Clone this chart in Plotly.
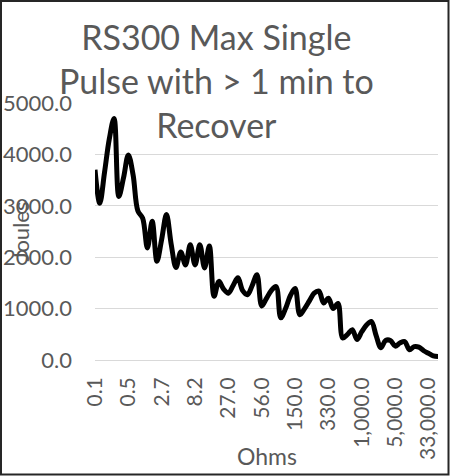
import plotly.graph_objects as go

# resistance steps (ohms) and the max single pulse energy (joules)
ohms = [0.1, 0.15, 0.2, 0.25, 0.3, 0.33, 0.4,
        0.5, 0.75, 1.0, 1.2, 1.5, 2.0, 2.2,
        2.7, 3.3, 3.9, 4.7, 5.0, 5.6, 6.8,
        8.2, 10, 12, 15, 18, 20, 22,
        27, 30, 33, 39, 43, 47, 50,
        56, 68, 75, 82, 100, 110, 120,
        150, 180, 200, 220, 250, 270, 300,
        330, 390, 470, 500, 560, 680, 820,
        1000, 1200, 1500, 2000, 2200, 2700, 3300,
        5000, 6800, 10000, 12000, 15000, 20000, 27000,
        33000, 47000, 50000]
joules = [3700, 3050, 3650, 4300, 4700, 3180, 3550,
          3990, 3600, 2900, 2760, 2180, 2700, 1920,
          2350, 2830, 2250, 1800, 2100, 1850, 2240,
          1850, 2240, 1790, 2220, 1240, 1530, 1380,
          1300, 1450, 1600, 1350, 1270, 1450, 1660,
          1050, 1200, 1350, 1430, 820, 1000, 1250,
          1390, 880, 1000, 1150, 1300, 1340, 1110,
          1200, 1000, 1100, 430, 500, 590, 400,
          550, 680, 750, 480, 240, 380, 380,
          270, 330, 360, 200, 260, 250, 180,
          130, 80, 70]
label_every = 7

cats = [f"{v:g}" for v in ohms]
tickvals = cats[::label_every]
ticktext = [f"{v:,.1f}" for v in ohms[::label_every]]

W, H = 450, 476
L, R, T, B = 95, 12, 103, 116
pw, ph = W - L - R, H - T - B

def px_x(x):
    return (x - L) / pw

def px_y(y):
    return (H - B - y) / ph

GREY = "#595959"
FONT = "Lato"

fig = go.Figure()
fig.add_trace(go.Scatter(x=cats, y=joules, mode="lines",
                         line=dict(color="black", width=5, shape="spline", smoothing=1),
                         showlegend=False, hoverinfo="x+y"))

fig.update_xaxes(type="category", categoryorder="array", categoryarray=cats,
                 tickvals=tickvals, ticktext=ticktext, tickangle=-90,
                 tickfont=dict(family=FONT, size=21, color=GREY),
                 showgrid=False, zeroline=False, showline=False, ticks="",
                 ticklabelstandoff=12, automargin=False)
fig.update_yaxes(range=[0, 5000], dtick=1000, tickformat=".1f",
                 tickfont=dict(family=FONT, size=22, color=GREY),
                 showgrid=True, gridcolor="#d9d9d9", gridwidth=1,
                 zeroline=True, zerolinecolor="#d9d9d9", zerolinewidth=1,
                 showline=False, ticks="", ticklabelstandoff=22, automargin=False)

# title, axis titles placed by hand (they overlap tick labels in the original)
fig.add_annotation(text="RS300 Max Single<br>Pulse with > 1 min to<br>Recover",
                   x=px_x(216), y=px_y(14), xref="paper", yref="paper",
                   xanchor="center", yanchor="top", showarrow=False,
                   font=dict(family=FONT, size=34, color=GREY))
fig.add_annotation(text="Joules", x=px_x(20), y=0.5, xref="paper", yref="paper",
                   xanchor="center", yanchor="middle", textangle=-90, showarrow=False,
                   font=dict(family=FONT, size=22, color=GREY))
fig.add_annotation(text="Ohms", x=0.5, y=px_y(456), xref="paper", yref="paper",
                   xanchor="center", yanchor="middle", showarrow=False,
                   font=dict(family=FONT, size=23, color=GREY))

fig.add_shape(type="rect", xref="paper", yref="paper",
              x0=px_x(1), x1=px_x(448.5), y0=px_y(474.5), y1=px_y(1),
              line=dict(color="#262626", width=2))

fig.update_layout(
    width=W, height=H,
    margin=dict(l=L, r=R, t=T, b=B, autoexpand=False),
    paper_bgcolor="white", plot_bgcolor="white",
)

# page body has a default 8px margin; drop it so the chart sits at the window corner
fig.write_html("out.html", config={"displayModeBar": False},
               post_script="document.body.style.margin = '0';")
